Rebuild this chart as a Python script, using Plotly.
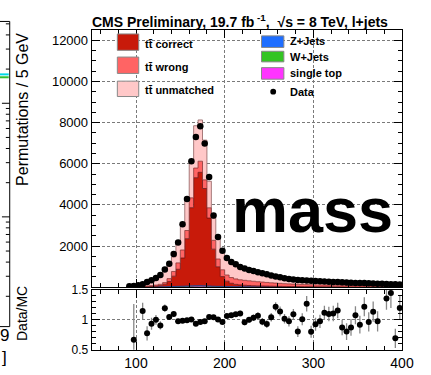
import plotly.graph_objects as go

# ---------------- data ----------------
bin_edges = list(range(90, 405, 5))          # 63 edges -> 62 bins of 5 GeV
bin_centers = [e + 2.5 for e in bin_edges[:-1]]

data = [40, 50, 94, 140, 250, 330, 450, 590, 860, 1140,
        1610, 2170, 3060, 4290, 6120, 7300, 7820, 6990, 5350, 3480,
        2440, 1765, 1420, 1220, 1110, 985, 905, 830, 780, 720,
        670, 625, 565, 520, 475, 430, 395, 370, 350, 335,
        320, 305, 295, 285, 275, 265, 255, 245, 235, 225,
        215, 205, 200, 195, 185, 175, 165, 160, 150, 145,
        135, 130]

tt_correct = [0, 2, 4, 6, 10, 18, 30, 55, 120, 250,
              500, 830, 1370, 2300, 3800, 5250, 5510, 4730, 3300, 1800,
              950, 480, 260, 160, 110, 85, 70, 60, 52, 45,
              40, 35, 31, 28, 25, 22, 20, 18, 16, 14,
              13, 12, 11, 10, 9, 8, 7, 7, 6, 6,
              5, 5, 5, 4, 4, 4, 3, 3, 3, 3,
              3, 2]

tt_wrong = [10, 14, 18, 22, 35, 45, 55, 65, 80, 140,
            230, 310, 390, 400, 480, 470, 540, 420, 500, 430,
            380, 330, 300, 280, 265, 250, 240, 228, 215, 202,
            190, 178, 166, 155, 145, 135, 127, 120, 114, 108,
            103, 98, 94, 90, 86, 83, 80, 77, 74, 71,
            68, 66, 64, 61, 59, 57, 55, 53, 51, 49,
            47, 45]

tt_unmatched = [42, 55, 72, 90, 197, 272, 351, 503, 539, 675,
                709, 1022, 1294, 1556, 1807, 2060, 2007, 1934, 1293, 1074,
                1062, 986, 760, 673, 621, 562, 549, 492, 460, 426,
                394, 367, 339, 308, 282, 261, 242, 227, 215, 204,
                193, 184, 175, 169, 162, 155, 149, 142, 138, 132,
                128, 123, 118, 115, 110, 107, 104, 100, 96, 93,
                90, 88]

single_top = [2, 3, 3, 4, 5, 6, 8, 10, 12, 15,
              18, 22, 27, 32, 38, 42, 44, 40, 34, 27,
              22, 19, 17, 15, 14, 13, 12, 11, 10, 10,
              9, 9, 8, 8, 7, 7, 6, 6, 6, 5,
              5, 5, 5, 4, 4, 4, 4, 4, 3, 3,
              3, 3, 3, 3, 3, 2, 2, 2, 2, 2,
              2, 2]

w_jets = [1, 1, 2, 2, 2, 3, 4, 5, 6, 7,
          9, 11, 13, 15, 17, 19, 20, 18, 16, 13,
          11, 10, 9, 8, 7, 7, 6, 6, 5, 5,
          5, 4, 4, 4, 4, 3, 3, 3, 3, 3,
          3, 2, 2, 2, 2, 2, 2, 2, 2, 2,
          2, 1, 1, 1, 1, 1, 1, 1, 1, 1,
          1, 1]

z_jets = [0, 0, 1, 1, 1, 1, 2, 2, 3, 3,
          4, 5, 6, 7, 8, 9, 9, 8, 7, 6,
          5, 5, 4, 4, 3, 3, 3, 3, 3, 2,
          2, 2, 2, 2, 2, 2, 2, 1, 1, 1,
          1, 1, 1, 1, 1, 1, 1, 1, 1, 1,
          1, 1, 1, 1, 1, 1, 1, 1, 1, 1,
          1, 1]

ratio = [None, 0.667, None, 1.147, 0.775, 0.936, 1.0, 0.907, 1.196, 1.05,
         1.10, 0.975, 0.985, 0.995, 1.005, 0.936, 0.966, 0.975, 1.05, 1.045,
         1.005, 0.966, 1.064, 1.078, 1.093, 1.108, 0.96, 1.0, 1.034, 1.069,
         0.97, 0.93, 1.044, 1.22, 1.142, 1.02, 0.975, 1.093, 0.804, 1.01,
         1.27, 0.80, 0.926, 0.975, 1.118, 1.098, 1.108, 1.157, 0.873, 0.804,
         0.873, 1.078, 0.92, 1.22, 0.966, 1.137, 0.975, None, 1.358, 1.45,
         0.69, 1.2]

ratio_err = [0, 0.6, 0, 0.14, 0.12, 0.10, 0.08, 0.07, 0.06, 0.05,
             0.04, 0.03, 0.025, 0.02, 0.02, 0.02, 0.02, 0.02, 0.02, 0.025,
             0.03, 0.03, 0.035, 0.04, 0.04, 0.045, 0.05, 0.05, 0.055, 0.06,
             0.06, 0.065, 0.07, 0.075, 0.08, 0.08, 0.085, 0.09, 0.09, 0.1,
             0.13, 0.1, 0.11, 0.11, 0.12, 0.12, 0.13, 0.13, 0.13, 0.14,
             0.14, 0.15, 0.15, 0.16, 0.16, 0.17, 0.17, 0, 0.19, 0.25,
             0.16, 0.2]

main_ticks = [2000, 4000, 6000, 8000, 10000, 12000]
main_tick_labels = ["2000", "4000", "6000", "8000", "10000", "12000"]
ratio_ticks = [0.5, 1, 1.5]
ratio_tick_labels = ["0.5", "1", "1.5"]
x_ticks = [100, 200, 300, 400]
x_tick_labels = ["100", "200", "300", "400"]

# ---------------- styling ----------------
W, H = 431, 375
FONT = "Liberation Sans, Arial, Helvetica, sans-serif"
C_CORRECT = "#c81a0a"
C_WRONG = "#ff6464"
C_UNM = "#ffc8c8"
C_Z = "#1e6eff"
C_W = "#33c422"
C_ST = "#ff33ff"


def px(x):
    return x / W


def py(y):
    return 1 - y / H


fig = go.Figure()

stack = [
    ("single top", single_top, C_ST, "#aa22aa"),
    ("W+Jets", w_jets, C_W, "#227a18"),
    ("Z+Jets", z_jets, C_Z, "#1040a0"),
    ("tt correct", tt_correct, C_CORRECT, "#6a1010"),
    ("tt wrong", tt_wrong, C_WRONG, "#8a3030"),
    ("tt unmatched", tt_unmatched, C_UNM, "#906060"),
]
for name, vals, fc, lc in stack:
    fig.add_trace(go.Scatter(
        x=bin_edges, y=list(vals) + [vals[-1]], mode="lines",
        line=dict(shape="hv", color=lc, width=0.8),
        stackgroup="mc", fillcolor=fc, name=name,
        xaxis="x2", yaxis="y2", hoverinfo="skip"))

fig.add_trace(go.Scatter(
    x=bin_centers, y=data, mode="markers",
    marker=dict(color="black", size=6.5), xaxis="x2", yaxis="y2", name="Data"))

fig.add_trace(go.Scatter(
    x=bin_centers, y=ratio, mode="markers",
    marker=dict(color="black", size=6),
    error_y=dict(type="data", array=ratio_err, color="#888888", thickness=1.3, width=0),
    xaxis="x", yaxis="y", name="ratio"))

xdom = [px(94.3), px(413.5)]
axis_common = dict(showline=True, linecolor="black", linewidth=1, mirror="ticks",
                   ticks="inside", tickcolor="black", zeroline=False,
                   showgrid=True, gridcolor="#7a7a7a", griddash="3px,2px", gridwidth=1)

fig.update_layout(
    width=W, height=H, autosize=False,
    margin=dict(l=0, r=0, t=0, b=0),
    paper_bgcolor="white", plot_bgcolor="white",
    showlegend=False,
    font=dict(family=FONT, color="black"),
    xaxis=dict(domain=xdom, anchor="y", range=[50, 400], tickvals=x_ticks, ticktext=x_tick_labels,
               ticklen=8, tickfont=dict(size=14, family=FONT),
               minor=dict(dtick=20, tick0=0, ticklen=4, ticks="inside", tickcolor="black"),
               **axis_common),
    yaxis=dict(domain=[py(356), py(294)], anchor="x", range=[0.5, 1.5], tickvals=ratio_ticks,
               ticktext=ratio_tick_labels, ticklen=8, tickfont=dict(size=12, family=FONT),
               minor=dict(dtick=0.1, tick0=0, ticklen=4, ticks="inside", tickcolor="black"),
               **axis_common),
    xaxis2=dict(domain=xdom, anchor="y2", range=[50, 400], matches="x", tickvals=x_ticks,
                showticklabels=False, ticklen=8,
                minor=dict(dtick=20, tick0=0, ticklen=4, ticks="inside", tickcolor="black"),
                **axis_common),
    yaxis2=dict(domain=[py(291), py(24)], anchor="x2", range=[0, 12500], tickvals=main_ticks,
                ticktext=main_tick_labels, ticklen=8, tickfont=dict(size=13, family=FONT),
                minor=dict(dtick=500, tick0=0, ticklen=4, ticks="inside", tickcolor="black"),
                **axis_common),
)
# make sure minor grids stay off while major grids are on
fig.update_xaxes(minor_showgrid=False, showgrid=True)
fig.update_yaxes(minor_showgrid=False, showgrid=True)

ann = []
shapes = []

# title
ann.append(dict(text="<b>CMS Preliminary, 19.7 fb<sup> -1</sup>,  \u221As = 8 TeV, l+jets</b>",
                x=px(247), y=py(15), xref="paper", yref="paper", showarrow=False,
                xanchor="center", yanchor="middle", font=dict(size=14, family=FONT)))

# axis titles
ann.append(dict(text="Permutations / 5 GeV", x=px(22.5), y=py(106), xref="paper", yref="paper",
                showarrow=False, textangle=-90, xanchor="center", yanchor="middle",
                font=dict(size=16, family=FONT)))
ann.append(dict(text="Data/MC", x=px(22.5), y=py(318), xref="paper", yref="paper",
                showarrow=False, textangle=-90, xanchor="center", yanchor="middle",
                font=dict(size=14, family=FONT)))

# legend
tt = "t" + "t\u0304"
left_entries = [(tt + " correct", C_CORRECT, 28, 45, 38),
                (tt + " wrong", C_WRONG, 52, 69, 62),
                (tt + " unmatched", C_UNM, 77, 93, 86)]
for label, col, y0, y1, yt in left_entries:
    shapes.append(dict(type="rect", xref="paper", yref="paper", x0=px(120.7), x1=px(142.7),
                       y0=py(y1), y1=py(y0), fillcolor=col, line=dict(color="#888888", width=1)))
    ann.append(dict(text="<b>" + label + "</b>", x=px(147), y=py(yt), xref="paper", yref="paper",
                    showarrow=False, xanchor="left", yanchor="middle", font=dict(size=11, family=FONT)))
right_entries = [("Z+Jets", C_Z, 30, 42, 35),
                 ("W+Jets", C_W, 46, 57, 52),
                 ("single top", C_ST, 63, 75, 69)]
for label, col, y0, y1, yt in right_entries:
    shapes.append(dict(type="rect", xref="paper", yref="paper", x0=px(269), x1=px(292),
                       y0=py(y1), y1=py(y0), fillcolor=col, line=dict(color="#888888", width=1)))
    ann.append(dict(text="<b>" + label + "</b>", x=px(296), y=py(yt), xref="paper", yref="paper",
                    showarrow=False, xanchor="left", yanchor="middle", font=dict(size=11, family=FONT)))
shapes.append(dict(type="circle", xref="paper", yref="paper", x0=px(278), x1=px(284),
                   y0=py(91), y1=py(85), fillcolor="black", line=dict(color="black", width=0)))
ann.append(dict(text="<b>Data</b>", x=px(296), y=py(88), xref="paper", yref="paper",
                showarrow=False, xanchor="left", yanchor="middle", font=dict(size=11, family=FONT)))

# big overlay text
ann.append(dict(text="<b>mass</b>", x=px(321), y=py(211), xref="paper", yref="paper",
                showarrow=False, xanchor="center", yanchor="middle", font=dict(size=63, family=FONT)))

# remnant of neighbouring figure on the left edge
shapes.append(dict(type="line", xref="paper", yref="paper", x0=px(10), x1=px(10), y0=py(332), y1=py(15),
                   line=dict(color="black", width=1)))
shapes.append(dict(type="line", xref="paper", yref="paper", x0=0, x1=px(10), y0=py(15), y1=py(15),
                   line=dict(color="black", width=1)))
shapes.append(dict(type="line", xref="paper", yref="paper", x0=0, x1=px(10), y0=py(332), y1=py(332),
                   line=dict(color="black", width=1)))
left_ticks_major = [100, 218]
left_ticks_minor = [17.5, 29, 43.7, 64.5, 105.4, 111.4, 118.3, 126.2, 135.5, 147, 161.7, 182.5,
                    223.4, 229.4, 236.3, 244.2, 253.5, 265, 279.7, 300.5]
for yy in left_ticks_major:
    shapes.append(dict(type="line", xref="paper", yref="paper", x0=px(2), x1=px(10), y0=py(yy), y1=py(yy),
                       line=dict(color="black", width=1)))
for yy in left_ticks_minor:
    shapes.append(dict(type="line", xref="paper", yref="paper", x0=px(6), x1=px(10), y0=py(yy), y1=py(yy),
                       line=dict(color="black", width=1)))
shapes.append(dict(type="line", xref="paper", yref="paper", x0=0, x1=px(9), y0=py(70), y1=py(70),
                   line=dict(color="#00d8e8", width=2)))
shapes.append(dict(type="line", xref="paper", yref="paper", x0=0, x1=px(9), y0=py(73), y1=py(73),
                   line=dict(color="#30c030", width=2)))
ann.append(dict(text="9", x=px(5), y=py(341), xref="paper", yref="paper", showarrow=False,
                xanchor="center", yanchor="middle", font=dict(size=17, family=FONT)))
ann.append(dict(text="]", x=px(5), y=py(364), xref="paper", yref="paper", showarrow=False,
                xanchor="center", yanchor="middle", font=dict(size=17, family=FONT)))

fig.update_layout(annotations=ann, shapes=shapes)
fig.write_html("out.html")
